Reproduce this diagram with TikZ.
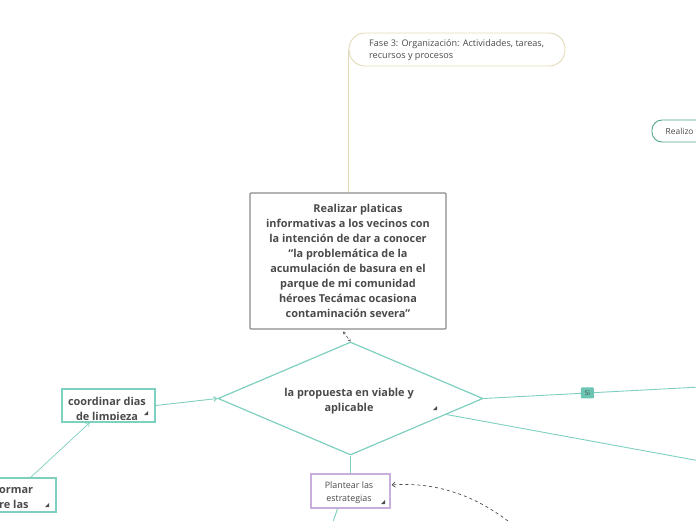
\documentclass[tikz,border=0pt]{standalone}
\usepackage{fontspec}
\setmainfont{Open Sans}
\usetikzlibrary{arrows.meta,shapes.geometric,calc}
\definecolor{tealline}{HTML}{7ECFC0}
\definecolor{tealdark}{HTML}{4FA58E}
\definecolor{tealfill}{HTML}{6CC5B4}
\definecolor{beige}{HTML}{E3DAB8}
\definecolor{boxgray}{HTML}{8A8A8A}
\definecolor{txt}{HTML}{4A4A4A}
\definecolor{lilac}{HTML}{C9AEDB}
\tikzset{
  conn/.style={draw=tealline, line width=0.9pt},
  mainbox/.style={draw=boxgray, line width=1.1pt, rounded corners=1pt, minimum width=196pt, minimum height=136pt, inner sep=0pt},
  tealbox/.style={draw=tealline, line width=1.3pt, inner sep=0pt},
  boldtxt/.style={text=txt, font=\fontsize{10.9}{15}\selectfont\bfseries, align=center, inner sep=0pt},
  smalltxt/.style={text=txt, font=\fontsize{9.1}{12}\selectfont, inner sep=0pt},
}
\begin{document}
\begin{tikzpicture}[x=1pt,y=-1pt]
\useasboundingbox (0,0) rectangle (696,520);
\clip (0,0) rectangle (696,520);
% Fase 3 node
\node[draw=beige, line width=0.9pt, rounded corners=16pt, minimum width=216pt, minimum height=33pt, inner sep=0pt] (fase) at (457,49.5) {};
\node[smalltxt, align=left, anchor=north west] (fasetxt) at (369,39.5) {Fase 3: Organización: Actividades, tareas,\\recursos y procesos};
% Realizo node
\node[draw=tealdark, line width=0.9pt, rounded corners=10pt, minimum width=100pt, minimum height=22pt, inner sep=0pt] (realizo) at (702,131) {};
\node[smalltxt, anchor=west, font=\fontsize{8.4}{10}\selectfont] (realizotxt) at (665.5,131.5) {Realizo};
% main box
\node[mainbox] (main) at (348,261) {};
\node[boldtxt, anchor=north] (maintxt) at (348,204) {\hspace*{20pt}Realizar platicas\\informativas a los vecinos con\\la intención de dar a conocer\\“la problemática de la\\acumulación de basura en el\\parque de mi comunidad\\héroes Tecámac ocasiona\\contaminación severa”};
\draw[draw=beige, line width=0.9pt] (fase.west) -- (fase.west |- main.north);
% diamond
\node[diamond, draw=tealline, line width=1.2pt, minimum width=265pt, minimum height=113pt, inner sep=0pt] (dia) at (350.5,398.5) {};
\begin{scope}
\clip (240,380) rectangle (460,413.5);
\node[boldtxt, anchor=north] (diatxt) at (349,388) {la propuesta en viable y\\aplicable};
\end{scope}
\fill[txt] (433,410) -- (437,410) -- (437,406) -- cycle;
% small relation arrows between main and diamond
\coordinate (mrel) at ($(main.south)+(-5,2)$);
\draw[txt, line width=0.5pt, densely dashed, {Straight Barb[length=2pt,width=3pt]}-{Straight Barb[length=2pt,width=3pt]}] (mrel) -- (dia.north);
% right connectors
\coordinate (rend) at (700,387);
\draw[conn] (dia.east) -- (rend) node[pos=0.48, fill=tealfill, rounded corners=1pt, minimum width=13pt, minimum height=11pt, inner sep=0pt, text=txt, font=\fontsize{6.5}{7}\selectfont] (si) {Si};
\coordinate (dlow) at ($(dia.east)!0.28!(dia.south)$);
\coordinate (rend2) at (700,461);
\draw[conn] (dlow) -- (rend2);
% coordinar box
\node[tealbox, minimum width=93pt, minimum height=33pt] (coord) at (108.5,405.5) {};
\begin{scope}
\clip (62,390) rectangle (155,419);
\node[boldtxt, anchor=north] (coordtxt) at (107,397) {coordinar dias\\de limpieza};
\end{scope}
\fill[txt] (144,415) -- (148,415) -- (148,411) -- cycle;
\draw[conn, -{Straight Barb[length=3pt,width=5pt]}] (coord.east) -- (dia.west);
% informar box
\node[tealbox, minimum width=80pt, minimum height=34pt] (inf) at (16,495) {};
\begin{scope}
\clip (0,479) rectangle (55,507.5);
\node[boldtxt, anchor=north west, align=left] (inftxt) at (-1,487) {ormar\\re las};
\end{scope}
\fill[txt] (45,507) -- (49,507) -- (49,503) -- cycle;
\draw[conn, line width=0.7pt, -{Straight Barb[length=3pt,width=5pt]}] (30,478) -- ($(coord.south west)!0.3!(coord.south east)$);
% plantear box
\node[draw=lilac, line width=1.3pt, minimum width=79pt, minimum height=34pt, inner sep=0pt] (plan) at (350.5,491) {};
\node[smalltxt, align=center, font=\fontsize{8.9}{13}\selectfont] (plantxt) at (349,492.5) {Plantear las\\estrategias};
\fill[txt] (381,504) -- (385,504) -- (385,500) -- cycle;
\draw[conn] (dia.south) -- (plan.north);
\coordinate (pend) at (333,522);
\draw[conn] ($(plan.south)+(-13,0)$) -- (pend);
% dashed curve
\coordinate (dend) at (508,521);
\draw[txt, line width=0.7pt, dashed, -{Straight Barb[length=3pt,width=5pt]}] (dend) .. controls (470,492) and (430,482) .. ($(plan.east)+(1,-6)$);
\end{tikzpicture}
\end{document}
